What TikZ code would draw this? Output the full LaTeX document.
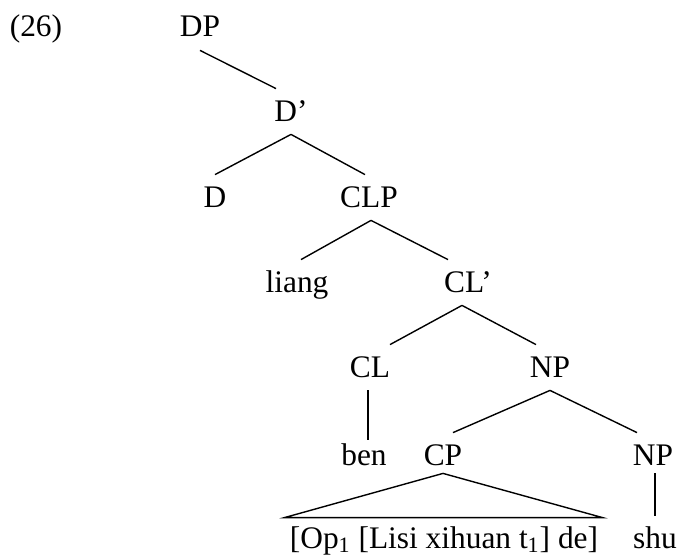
\documentclass[tikz,border=0pt]{standalone}
\usepackage{fontspec}
\setmainfont{Liberation Serif}
\usepackage{tikz}

\begin{document}
\begin{tikzpicture}[x=0.5pt,y=-0.5pt]
        \tikzset{
        lab/.style={anchor=base, inner xsep=0pt, inner ysep=2pt,
        text height=14pt, text depth=4.5pt,
        font=\fontsize{15.7}{18}\selectfont},
        br/.style={line width=0.7pt},
        }
        \useasboundingbox (0,0) rectangle (679,556);
        \node[lab] (ex) at (36,37) {(26)};
        \node[lab] (dp) at (200,37) {DP};
        \node[lab] (dbar) at (291,121) {D’};
        \node[lab] (d) at (215,207) {D};
        \node[lab] (clp) at (369,207) {CLP};
        \node[lab] (liang) at (297,292) {liang};
        \node[lab] (clbar) at (468,292) {CL’};
        \node[lab] (cl) at (370,377) {CL};
        \node[lab] (np1) at (550,377) {NP};
        \node[lab] (ben) at (364,465) {ben};
        \node[lab] (cp) at (443,465) {CP};
        \node[lab] (np2) at (653,465) {NP};
        \node[lab] (rel) at (444,548) {[Op\textsubscript{1} [Lisi xihuan t\textsubscript{1}] de]};
        \node[lab] (shu) at (655,548) {shu};

        \draw[br] (dp.south) -- ([xshift=-7.5pt]dbar.north);
        \draw[br] (dbar.south) -- (d.north);
        \draw[br] (dbar.south) -- ([xshift=-2pt]clp.north);
        \draw[br] ([xshift=1pt]clp.south) -- ([xshift=2pt]liang.north);
        \draw[br] ([xshift=1pt]clp.south) -- ([xshift=-10pt]clbar.north);
        \draw[br] ([xshift=-3pt]clbar.south) -- ([xshift=10pt]cl.north);
        \draw[br] ([xshift=-3pt]clbar.south) -- ([xshift=-7pt]np1.north);
        \draw[br] ([xshift=-1pt]cl.south) -- ([xshift=2pt,yshift=-3.5pt]ben.north);
        \draw[br] (np1.south) -- ([xshift=5pt]cp.north);
        \draw[br] (np1.south) -- ([xshift=-8pt]np2.north);
        \draw[br] ([yshift=2.5pt]cp.south) -- ([xshift=-2.5pt,yshift=-1pt]rel.north west)
                -- ([xshift=2pt,yshift=-1pt]rel.north east) -- cycle;
        \draw[br] ([xshift=1pt,yshift=2.5pt]np2.south) -- (shu.north);
\end{tikzpicture}
\end{document}
